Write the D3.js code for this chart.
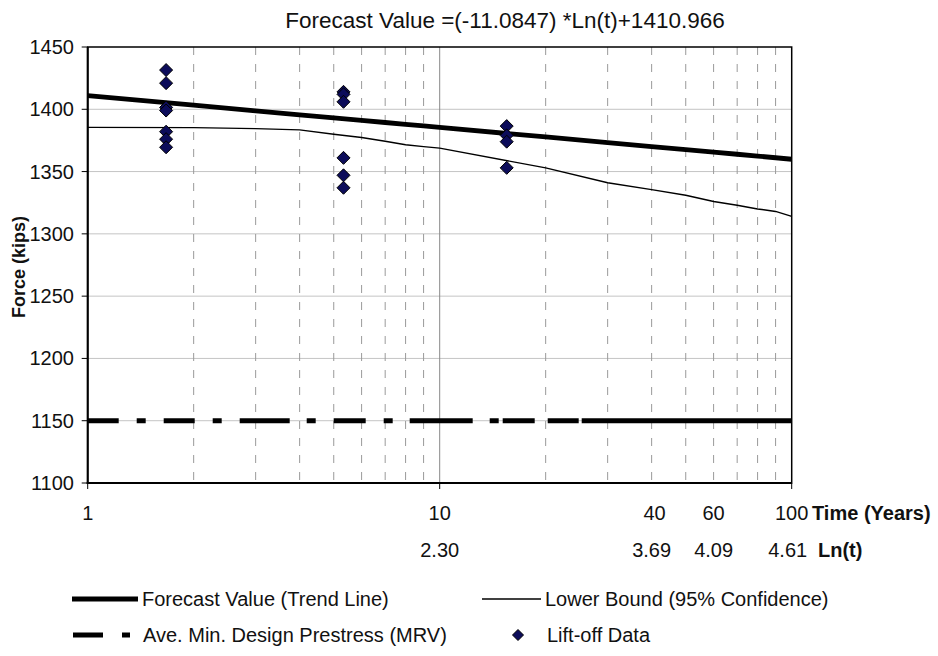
<!DOCTYPE html>
<html>
<head>
<meta charset="utf-8">
<script src="https://cdn.jsdelivr.net/npm/d3@7"></script>
<style>
  html, body { margin: 0; padding: 0; background: #fff; }
  svg { display: block; font-family: "Liberation Sans", Arial, sans-serif; }
</style>
</head>
<body>
<svg id="chart" width="938" height="656"></svg>
<script>
// ---------------- data ----------------
const titleText = "Forecast Value =(-11.0847) *Ln(t)+1410.966";
const yTicks = [1100, 1150, 1200, 1250, 1300, 1350, 1400, 1450];
const xLabelTicks = [1, 10, 40, 60, 100];
const lnTickPos = [10, 40, 60, 100];
const lnLabels = ["2.30", "3.69", "4.09", "4.61"];
const minorGrid = [2, 3, 4, 5, 6, 7, 8, 9, 20, 30, 40, 50, 60, 70, 80, 90];
const majorGrid = [10];

const trendT = [1, 2, 3, 4, 5, 6, 7, 8, 9, 10, 20, 30, 40, 50, 60, 70, 80, 90, 100];
const trendV = [1411.0, 1403.3, 1398.8, 1395.6, 1393.1, 1391.1, 1389.4, 1387.9, 1386.6, 1385.4,
                1377.8, 1373.3, 1370.1, 1367.6, 1365.6, 1363.9, 1362.4, 1361.1, 1359.9];

const lowerT = [1, 2, 3, 4, 5, 6, 7, 8, 9, 10, 20, 30, 40, 50, 60, 70, 80, 90, 100];
const lowerV = [1385.5, 1385.3, 1384.5, 1383.5, 1380.0, 1377.3, 1374.3, 1371.5, 1370.0, 1368.8,
                1353.0, 1341.0, 1335.5, 1331.0, 1326.0, 1323.0, 1320.0, 1318.0, 1314.0];

const mrvT = [1, 100];
const mrvV = [1150, 1150];

const liftT = [1.67, 1.67, 1.67, 1.67, 1.67, 1.67, 1.67,
               5.33, 5.33, 5.33, 5.33, 5.33, 5.33,
               15.5, 15.5, 15.5, 15.5];
const liftV = [1431.5, 1421, 1401.5, 1399, 1382, 1376, 1369.5,
               1414, 1412, 1406, 1361, 1347, 1337,
               1386.5, 1379, 1374, 1353];

const legendItems = ["Forecast Value (Trend Line)", "Lower Bound (95% Confidence)",
                     "Ave. Min. Design Prestress (MRV)", "Lift-off Data"];

// ---------------- chart ----------------
const svg = d3.select("#chart");
svg.append("rect").attr("width", 938).attr("height", 656).attr("fill", "#fff");

const L = 87.7, R = 791.7, T = 47, B = 483;
const x = d3.scaleLog().domain([1, 100]).range([L, R]);
const y = d3.scaleLinear().domain([1100, 1450]).range([B, T]);

// title
svg.append("text").attr("x", 505).attr("y", 28).attr("text-anchor", "middle")
  .attr("font-size", 22.5).attr("fill", "#111").text(titleText);

// horizontal gridlines
svg.append("g").selectAll("line").data(yTicks.filter(v => v > 1100 && v < 1450)).join("line")
  .attr("x1", L).attr("x2", R).attr("y1", d => y(d)).attr("y2", d => y(d))
  .attr("stroke", "#c4c4c4").attr("stroke-width", 1);

// vertical gridlines
svg.append("g").selectAll("line").data(minorGrid).join("line")
  .attr("x1", d => x(d)).attr("x2", d => x(d)).attr("y1", T).attr("y2", B)
  .attr("stroke", "#9a9a9a").attr("stroke-width", 1).attr("stroke-dasharray", "8,9");
svg.append("g").selectAll("line").data(majorGrid).join("line")
  .attr("x1", d => x(d)).attr("x2", d => x(d)).attr("y1", T).attr("y2", B)
  .attr("stroke", "#888").attr("stroke-width", 1);

// series lines
const line = d3.line().x(d => x(d[0])).y(d => y(d[1]));

svg.append("path").datum(mrvT.map((t, i) => [t, mrvV[i]])).attr("d", line)
  .attr("fill", "none").attr("stroke", "#000").attr("stroke-width", 5)
  .attr("stroke-dasharray", "31,18,9,18,31,18,9,18,50,17,9,18,32,18,9,17,63,17,9,4,32,13,31,3,400");

svg.append("path").datum(lowerT.map((t, i) => [t, lowerV[i]])).attr("d", line)
  .attr("fill", "none").attr("stroke", "#000").attr("stroke-width", 1.4);

svg.append("path").datum(trendT.map((t, i) => [t, trendV[i]])).attr("d", line)
  .attr("fill", "none").attr("stroke", "#000").attr("stroke-width", 4.8);

// diamonds
const diamond = "M0,-6.5L6.5,0L0,6.5L-6.5,0Z";
svg.append("g").selectAll("path").data(liftT.map((t, i) => [t, liftV[i]])).join("path")
  .attr("transform", d => `translate(${x(d[0])},${y(d[1])})`)
  .attr("d", diamond).attr("fill", "#0c0c5a").attr("stroke", "#000").attr("stroke-width", 1);

// frame
svg.append("rect").attr("x", L).attr("y", T).attr("width", R - L).attr("height", B - T)
  .attr("fill", "none").attr("stroke", "#000").attr("stroke-width", 1.5);
svg.append("line").attr("x1", L).attr("x2", L).attr("y1", T).attr("y2", B + 1)
  .attr("stroke", "#000").attr("stroke-width", 2);
svg.append("line").attr("x1", L - 1).attr("x2", R).attr("y1", B).attr("y2", B)
  .attr("stroke", "#000").attr("stroke-width", 2);

// y axis ticks & labels
const yg = svg.append("g");
yg.selectAll("line").data(yTicks).join("line")
  .attr("x1", L - 6).attr("x2", L).attr("y1", d => y(d)).attr("y2", d => y(d))
  .attr("stroke", "#000").attr("stroke-width", 1);
yg.selectAll("text").data(yTicks).join("text")
  .attr("x", 74).attr("y", d => y(d) + 7).attr("text-anchor", "end")
  .attr("font-size", 20).attr("fill", "#111").text(d => d);

svg.append("text").attr("transform", `translate(25,${(T + B) / 2 + 2}) rotate(-90)`)
  .attr("text-anchor", "middle").attr("font-size", 18).attr("font-weight", "bold")
  .attr("fill", "#111").text("Force (kips)");

// x axis ticks & labels
svg.append("g").selectAll("line").data([1, 10, 100]).join("line")
  .attr("x1", d => x(d)).attr("x2", d => x(d)).attr("y1", B).attr("y2", B + 6)
  .attr("stroke", "#000").attr("stroke-width", 1);
svg.append("g").selectAll("text").data(xLabelTicks).join("text")
  .attr("x", d => x(d) + (d === 40 ? 3 : 0)).attr("y", 520).attr("text-anchor", "middle")
  .attr("font-size", 20).attr("fill", "#111").text(d => d);
svg.append("text").attr("x", 812).attr("y", 520).attr("font-size", 20).attr("font-weight", "bold")
  .attr("fill", "#111").text("Time (Years)");

svg.append("g").selectAll("text").data(lnTickPos).join("text")
  .attr("x", (d, i) => x(d) - (i === 3 ? 4 : 0)).attr("y", 557).attr("text-anchor", "middle")
  .attr("font-size", 20).attr("fill", "#111").text((d, i) => lnLabels[i]);
svg.append("text").attr("x", 818).attr("y", 557).attr("font-size", 20).attr("font-weight", "bold")
  .attr("fill", "#111").text("Ln(t)");

// legend
const lg = svg.append("g").attr("font-size", 20).attr("fill", "#111");
const r1 = 599, r2 = 635;
lg.append("line").attr("x1", 72).attr("x2", 138).attr("y1", r1).attr("y2", r1)
  .attr("stroke", "#000").attr("stroke-width", 4.8);
lg.append("text").attr("x", 142).attr("y", r1 + 7).text(legendItems[0]);
lg.append("line").attr("x1", 482).attr("x2", 541).attr("y1", r1).attr("y2", r1)
  .attr("stroke", "#000").attr("stroke-width", 1.4);
lg.append("text").attr("x", 545).attr("y", r1 + 7).text(legendItems[1]);
lg.append("line").attr("x1", 73).attr("x2", 131).attr("y1", r2).attr("y2", r2)
  .attr("stroke", "#000").attr("stroke-width", 5).attr("stroke-dasharray", "30,19,8,100");
lg.append("text").attr("x", 143).attr("y", r2 + 7).text(legendItems[2]);
lg.append("path").attr("transform", `translate(518,${r2})`).attr("d", "M0,-5.5L5.5,0L0,5.5L-5.5,0Z")
  .attr("fill", "#0c0c5a").attr("stroke", "#000").attr("stroke-width", 1);
lg.append("text").attr("x", 547).attr("y", r2 + 7).text(legendItems[3]);
</script>
</body>
</html>
